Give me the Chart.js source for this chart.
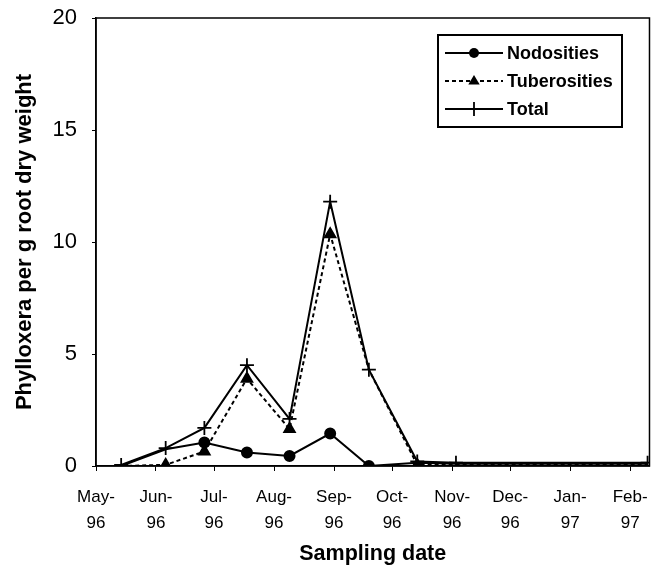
<!DOCTYPE html>
<html>
<head>
<meta charset="utf-8">
<script src="https://cdn.jsdelivr.net/npm/chart.js@4/dist/chart.umd.min.js"></script>
<style>
    html, body { margin: 0; padding: 0; background: #fff; }
</style>
</head>
<body>
<canvas id="phylloxeraChart" width="662" height="570"></canvas>
<script>
const sampleDates = ['1996-05-14', '1996-06-06', '1996-06-26', '1996-07-18', '1996-08-09',
                     '1996-08-30', '1996-09-19', '1996-10-14', '1996-11-03', '1997-02-10'];
const nodosities   = [0, 0.75, 1.05, 0.6, 0.45, 1.45, 0, 0.15, 0.1, 0.1];
const tuberosities = [0, 0.05, 0.65, 3.9, 1.65, 10.35, 4.3, 0.05, 0.05, 0.05];
const total        = [0.05, 0.8, 1.7, 4.5, 2.1, 11.8, 4.3, 0.2, 0.15, 0.15];

const monthStarts = ['1996-05-01', '1996-06-01', '1996-07-01', '1996-08-01', '1996-09-01',
                     '1996-10-01', '1996-11-01', '1996-12-01', '1997-01-01', '1997-02-01'];
const monthLabels = [['May-', '96'], ['Jun-', '96'], ['Jul-', '96'], ['Aug-', '96'], ['Sep-', '96'],
                     ['Oct-', '96'], ['Nov-', '96'], ['Dec-', '96'], ['Jan-', '97'], ['Feb-', '97']];
const axisEnd = '1997-02-11';
const yTicks = [0, 5, 10, 15, 20];

const origin = Date.UTC(1996, 4, 1);
const toDay = s => {
    const [y, m, d] = s.split('-').map(Number);
    return Math.round((Date.UTC(y, m - 1, d) - origin) / 86400000);
};
const sampleDays = sampleDates.map(toDay);
const tickDays = monthStarts.map(toDay);
const pts = arr => arr.map((v, i) => ({ x: sampleDays[i], y: v }));

// les marqueurs confondus avec ceux du total ne se voient pas sur la figure
const markerSize = (arr, r) => ctx => Math.abs(arr[ctx.dataIndex] - total[ctx.dataIndex]) < 0.12 ? 0 : r;

// cadre du graphique (haut et droite)
const framePlugin = {
    id: 'frame',
    beforeDatasetsDraw(chart) {
        const { ctx, chartArea: a } = chart;
        ctx.save();
        ctx.strokeStyle = '#000';
        ctx.lineWidth = 1.5;
        ctx.strokeRect(a.left, a.top, a.right - a.left, a.bottom - a.top);
        ctx.restore();
    }
};

function drawMarker(ctx, style, r, x, y) {
    ctx.beginPath();
    if (style === 'circle') {
        ctx.arc(x, y, r, 0, Math.PI * 2);
        ctx.fill();
    } else if (style === 'triangle') {
        ctx.moveTo(x, y - r);
        ctx.lineTo(x + r * 0.95, y + r * 0.6);
        ctx.lineTo(x - r * 0.95, y + r * 0.6);
        ctx.closePath();
        ctx.fill();
    } else {
        ctx.moveTo(x - r, y); ctx.lineTo(x + r, y);
        ctx.moveTo(x, y - r); ctx.lineTo(x, y + r);
        ctx.stroke();
    }
}

// légende encadrée, dessinée à la main
const legendRadius = { circle: 5, triangle: 6, cross: 7 };
const boxLegend = {
    id: 'boxLegend',
    afterDraw(chart) {
        const { ctx } = chart;
        const bx = 438, by = 35, bw = 184, bh = 92;
        ctx.save();
        ctx.fillStyle = '#fff';
        ctx.fillRect(bx, by, bw, bh);
        ctx.strokeStyle = '#000';
        ctx.lineWidth = 2;
        ctx.strokeRect(bx, by, bw, bh);
        chart.data.datasets.forEach((ds, i) => {
            const y = by + 18 + i * 28;
            ctx.strokeStyle = '#000';
            ctx.fillStyle = '#000';
            ctx.lineWidth = 1.8;
            ctx.setLineDash(ds.borderDash || []);
            ctx.beginPath();
            ctx.moveTo(bx + 7, y);
            ctx.lineTo(bx + 65, y);
            ctx.stroke();
            ctx.setLineDash([]);
            drawMarker(ctx, ds.pointStyle, legendRadius[ds.pointStyle], bx + 36, y);
            ctx.font = 'bold 18px "Liberation Sans", Arial, sans-serif';
            ctx.textBaseline = 'middle';
            ctx.fillText(ds.label, bx + 69, y + 1);
        });
        ctx.restore();
    }
};

new Chart(document.getElementById('phylloxeraChart'), {
    type: 'line',
    data: {
        datasets: [
            {
                label: 'Nodosities',
                data: pts(nodosities),
                borderColor: '#000',
                backgroundColor: '#000',
                borderWidth: 2,
                pointStyle: 'circle',
                pointRadius: markerSize(nodosities, 5),
                tension: 0
            },
            {
                label: 'Tuberosities',
                data: pts(tuberosities),
                borderColor: '#000',
                backgroundColor: '#000',
                borderWidth: 2,
                borderDash: [4, 3],
                pointStyle: 'triangle',
                pointRadius: markerSize(tuberosities, 6),
                tension: 0
            },
            {
                label: 'Total',
                data: pts(total),
                borderColor: '#000',
                backgroundColor: '#000',
                borderWidth: 2,
                pointStyle: 'cross',
                pointRadius: 7,
                pointBorderWidth: 1.8,
                tension: 0
            }
        ]
    },
    options: {
        responsive: false,
        animation: false,
        layout: { padding: { top: 18, right: 11, left: 0, bottom: 0 } },
        plugins: {
            legend: { display: false },
            tooltip: { enabled: false }
        },
        scales: {
            x: {
                type: 'linear',
                min: 0,
                max: toDay(axisEnd),
                afterBuildTicks: scale => { scale.ticks = tickDays.map(v => ({ value: v })); },
                afterFit: scale => { scale.height = 104; },
                ticks: {
                    autoSkip: false,
                    maxRotation: 0,
                    padding: 14,
                    color: '#000',
                    font: { family: '"Liberation Sans", Arial, sans-serif', size: 17, lineHeight: 1.5 },
                    callback: (v, i) => monthLabels[i]
                },
                grid: { drawOnChartArea: false, tickLength: 5, color: '#000' },
                border: { color: '#000', width: 1.5 },
                title: {
                    display: true,
                    text: 'Sampling date',
                    color: '#000',
                    padding: { top: 0, bottom: 3 },
                    font: { family: '"Liberation Sans", Arial, sans-serif', size: 21.5, weight: 'bold' }
                }
            },
            y: {
                min: 0,
                max: 20,
                afterBuildTicks: scale => { scale.ticks = yTicks.map(v => ({ value: v })); },
                afterFit: scale => {
                    scale.width = 96;
                    scale.paddingTop = 0;
                    scale.paddingBottom = 0;
                },
                ticks: {
                    padding: 15,
                    color: '#000',
                    font: { family: '"Liberation Sans", Arial, sans-serif', size: 22 }
                },
                grid: { drawOnChartArea: false, tickLength: 4, color: '#000' },
                border: { color: '#000', width: 1.5 },
                title: {
                    display: true,
                    text: 'Phylloxera per g root dry weight',
                    color: '#000',
                    padding: { top: 12, bottom: 0 },
                    font: { family: '"Liberation Sans", Arial, sans-serif', size: 22, weight: 'bold' }
                }
            }
        }
    },
    plugins: [framePlugin, boxLegend]
});
</script>
</body>
</html>
